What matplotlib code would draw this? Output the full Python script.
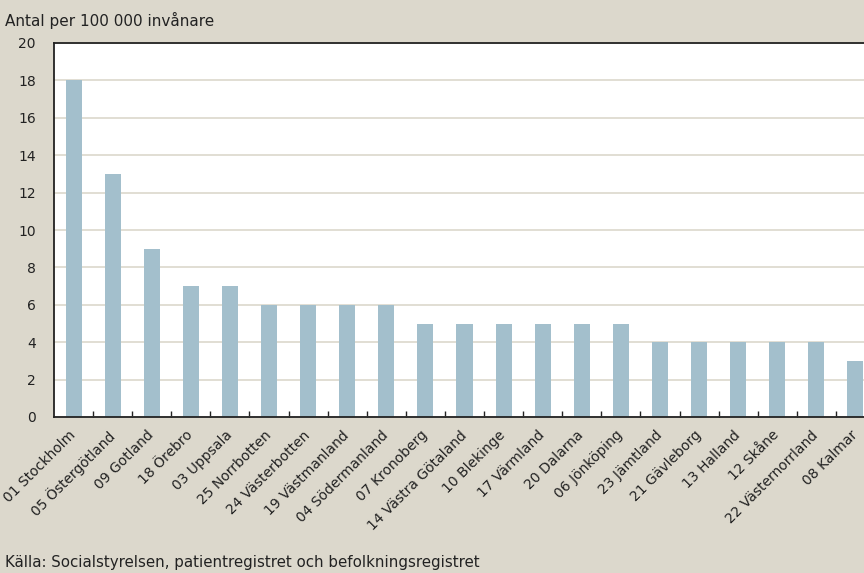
import matplotlib
matplotlib.use("Agg")
import matplotlib.pyplot as plt
import matplotlib.transforms as mtransforms
import numpy as np

# Values
lan = ["01 Stockholm", "05 Östergötland", "09 Gotland", "18 Örebro", "03 Uppsala",
       "25 Norrbotten", "24 Västerbotten", "19 Västmanland", "04 Södermanland",
       "07 Kronoberg", "14 Västra Götaland", "10 Blekinge", "17 Värmland",
       "20 Dalarna", "06 Jönköping", "23 Jämtland", "21 Gävleborg", "13 Halland",
       "12 Skåne", "22 Västernorrland", "08 Kalmar"]
antal = [18, 13, 9, 7, 7, 6, 6, 6, 6, 5, 5, 5, 5, 5, 5, 4, 4, 4, 4, 4, 3]
yticks = list(range(0, 21, 2))

bg = "#dcd8cc"
barcol = "#a3bfcc"
gridcol = "#dcd8cc"

plt.rcParams['font.family'] = ['DejaVu Sans']

fig = plt.figure(figsize=(8.64, 5.73), dpi=100, facecolor=bg)
# plot area runs past the right edge of the figure, as in the original
ax = fig.add_axes([54 / 864, 1 - 417 / 573, 821 / 864, 374 / 573])
ax.set_facecolor("white")

x = np.arange(len(lan))
ax.bar(x, antal, width=0.41, color=barcol, zorder=2)

ax.set_xlim(-0.5, len(lan) - 0.5)
ax.set_ylim(0, 20)
ax.set_yticks(yticks)
ax.yaxis.grid(True, color=gridcol, linewidth=1.2, zorder=0)
ax.tick_params(axis='y', length=0, labelsize=10, pad=13, colors="#222222")

# category ticks sit between the bars and point inwards
ax.set_xticks(x[:-1] + 0.5, minor=True)
ax.set_xticks(x)
ax.set_xticklabels(lan, rotation=45, ha='right', va='top', rotation_mode='anchor',
                   fontsize=10, color="#222222")
ax.tick_params(axis='x', which='major', length=0, pad=8)
ax.tick_params(axis='x', which='minor', direction='in', length=4, width=1, color="#222222")
# nudge labels a bit left so the last one stays inside the picture
offset = mtransforms.ScaledTranslation(-5 / 100, 0, fig.dpi_scale_trans)
for lbl in ax.get_xticklabels():
    lbl.set_transform(lbl.get_transform() + offset)

for side in ["left", "bottom", "top"]:
    ax.spines[side].set_color("#222222")
    ax.spines[side].set_linewidth(1.3)
ax.spines["right"].set_visible(False)

fig.text(5 / 864, 1 - 20 / 573, "Antal per 100 000 invånare", fontsize=11,
         color="#222222", va="center", ha="left")
fig.text(5 / 864, 1 - 563 / 573, "Källa: Socialstyrelsen, patientregistret och befolkningsregistret",
         fontsize=10.8, color="#222222", va="center", ha="left")

fig.savefig("out.png", dpi=100, facecolor=bg)
